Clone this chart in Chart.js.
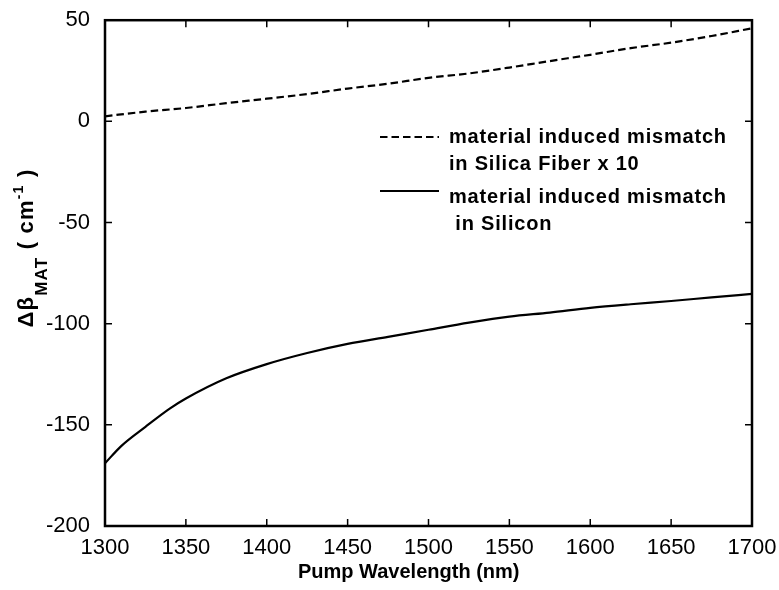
<!DOCTYPE html>
<html>
<head>
<meta charset="utf-8">
<script src="https://cdn.jsdelivr.net/npm/chart.js@4.4.1/dist/chart.umd.min.js"></script>
<style>
  html, body { margin: 0; padding: 0; background: #fff; }
  #plot { display: block; }
</style>
</head>
<body>
<canvas id="plot" width="779" height="590"></canvas>
<script>
/* ── Data (nm / cm^-1) ───────────────────────── */
const wavelengths   = [1300, 1325, 1350, 1375, 1400, 1425, 1450, 1475, 1500, 1525, 1550, 1575, 1600, 1625, 1650, 1675, 1700];
const silicaFiberX10 = [2.5, 4.8, 6.6, 9.0, 11.2, 13.5, 16.2, 18.6, 21.5, 23.7, 26.6, 29.8, 32.9, 36.2, 38.9, 42.2, 46.0];
const siliconWl     = [1300, 1310, 1325, 1340, 1350, 1375, 1400, 1425, 1450, 1475, 1500, 1525, 1550, 1575, 1600, 1625, 1650, 1675, 1700];
const silicon       = [-169, -160.5, -151, -142, -137, -127, -120, -114.5, -110, -106.5, -103, -99.5, -96.5, -94.5, -92.2, -90.4, -88.8, -87, -85.3];

const xTicks = [1300, 1350, 1400, 1450, 1500, 1550, 1600, 1650, 1700];
const yTicks = [-200, -150, -100, -50, 0, 50];

const xTitle = 'Pump Wavelength (nm)';
const legendLines = [
  ['material induced mismatch', 'in Silica Fiber x 10'],
  ['material induced mismatch', ' in Silicon'],
];

const FONT = '"Liberation Sans", Arial, sans-serif';
const INK  = '#000';

function pts(xs, ys) { return xs.map((x, i) => ({ x, y: ys[i] })); }

/* ── Frame, inward ticks, axis titles, legend ── */
const decorations = {
  id: 'decorations',
  afterDraw(chart) {
    const { ctx, chartArea: a, scales: { x, y } } = chart;
    const tl = 7;
    ctx.save();
    ctx.strokeStyle = INK;
    ctx.lineWidth = 2.5;
    ctx.strokeRect(a.left, a.top, a.right - a.left, a.bottom - a.top);

    ctx.lineWidth = 1.5;
    ctx.beginPath();
    xTicks.forEach(v => {
      const px = x.getPixelForValue(v);
      ctx.moveTo(px, a.bottom); ctx.lineTo(px, a.bottom - tl);
      ctx.moveTo(px, a.top);    ctx.lineTo(px, a.top + tl);
    });
    yTicks.forEach(v => {
      const py = y.getPixelForValue(v);
      ctx.moveTo(a.left, py);  ctx.lineTo(a.left + tl, py);
      ctx.moveTo(a.right, py); ctx.lineTo(a.right - tl, py);
    });
    ctx.stroke();

    ctx.fillStyle = INK;

    // x title
    ctx.font = 'bold 20px ' + FONT;
    ctx.textAlign = 'left';
    ctx.textBaseline = 'alphabetic';
    ctx.fillText(xTitle, 298, 578);

    // y title with subscript / superscript
    const parts = [
      { t: 'Δβ',    f: 'bold 22px ' + FONT, dy: 0 },
      { t: 'MAT',   f: 'bold 17px ' + FONT, dy: 14 },
      { t: ' ( cm', f: 'bold 22px ' + FONT, dy: 0 },
      { t: '-1',    f: 'bold 14px ' + FONT, dy: -10 },
      { t: ' )',    f: 'bold 22px ' + FONT, dy: 0 },
    ];
    ctx.letterSpacing = '1.2px';
    let total = 0;
    parts.forEach(p => { ctx.font = p.f; p.w = ctx.measureText(p.t).width; total += p.w; });
    ctx.translate(33, 248);
    ctx.rotate(-Math.PI / 2);
    let cx = -total / 2;
    parts.forEach(p => { ctx.font = p.f; ctx.fillText(p.t, cx, p.dy); cx += p.w; });
    ctx.setTransform(1, 0, 0, 1, 0, 0);

    // legend
    ctx.font = 'bold 20px ' + FONT;
    ctx.letterSpacing = '0.8px';
    const rows = [{ y: 137, base: 143 }, { y: 191, base: 203 }];
    chart.data.datasets.forEach((ds, i) => {
      const r = rows[i];
      ctx.strokeStyle = ds.borderColor;
      ctx.lineWidth = ds.borderWidth;
      ctx.setLineDash(ds.borderDash || []);
      ctx.beginPath();
      ctx.moveTo(380, r.y); ctx.lineTo(439, r.y);
      ctx.stroke();
      ctx.setLineDash([]);
      ctx.fillText(legendLines[i][0], 449, r.base);
      ctx.fillText(legendLines[i][1], 449, r.base + 27);
    });
    ctx.restore();
  },
};

new Chart(document.getElementById('plot'), {
  type: 'line',
  data: {
    datasets: [
      {
        label: 'Silica Fiber x 10',
        data: pts(wavelengths, silicaFiberX10),
        borderColor: INK,
        borderWidth: 2.2,
        borderDash: [7.5, 4],
        pointRadius: 0,
        cubicInterpolationMode: 'monotone',
        fill: false,
      },
      {
        label: 'Silicon',
        data: pts(siliconWl, silicon),
        borderColor: INK,
        borderWidth: 2.2,
        pointRadius: 0,
        cubicInterpolationMode: 'monotone',
        fill: false,
      },
    ],
  },
  options: {
    responsive: false,
    animation: false,
    layout: { padding: { top: 15, right: 27, left: 0, bottom: 0 } },
    plugins: { legend: { display: false }, tooltip: { enabled: false } },
    scales: {
      x: {
        type: 'linear',
        min: 1300, max: 1700,
        afterBuildTicks: s => { s.ticks = xTicks.map(v => ({ value: v })); },
        afterFit: s => { s.height = 64; },
        grid: { display: false },
        border: { display: false },
        ticks: { color: INK, font: { family: FONT, size: 22 }, padding: 1, maxRotation: 0, callback: v => String(v) },
      },
      y: {
        min: -200, max: 50,
        afterBuildTicks: s => { s.ticks = yTicks.map(v => ({ value: v })); },
        afterFit: s => { s.width = 105; },
        grid: { display: false },
        border: { display: false },
        ticks: { color: INK, font: { family: FONT, size: 22 }, padding: 7, callback: v => String(v) },
      },
    },
  },
  plugins: [decorations],
});
</script>
</body>
</html>
